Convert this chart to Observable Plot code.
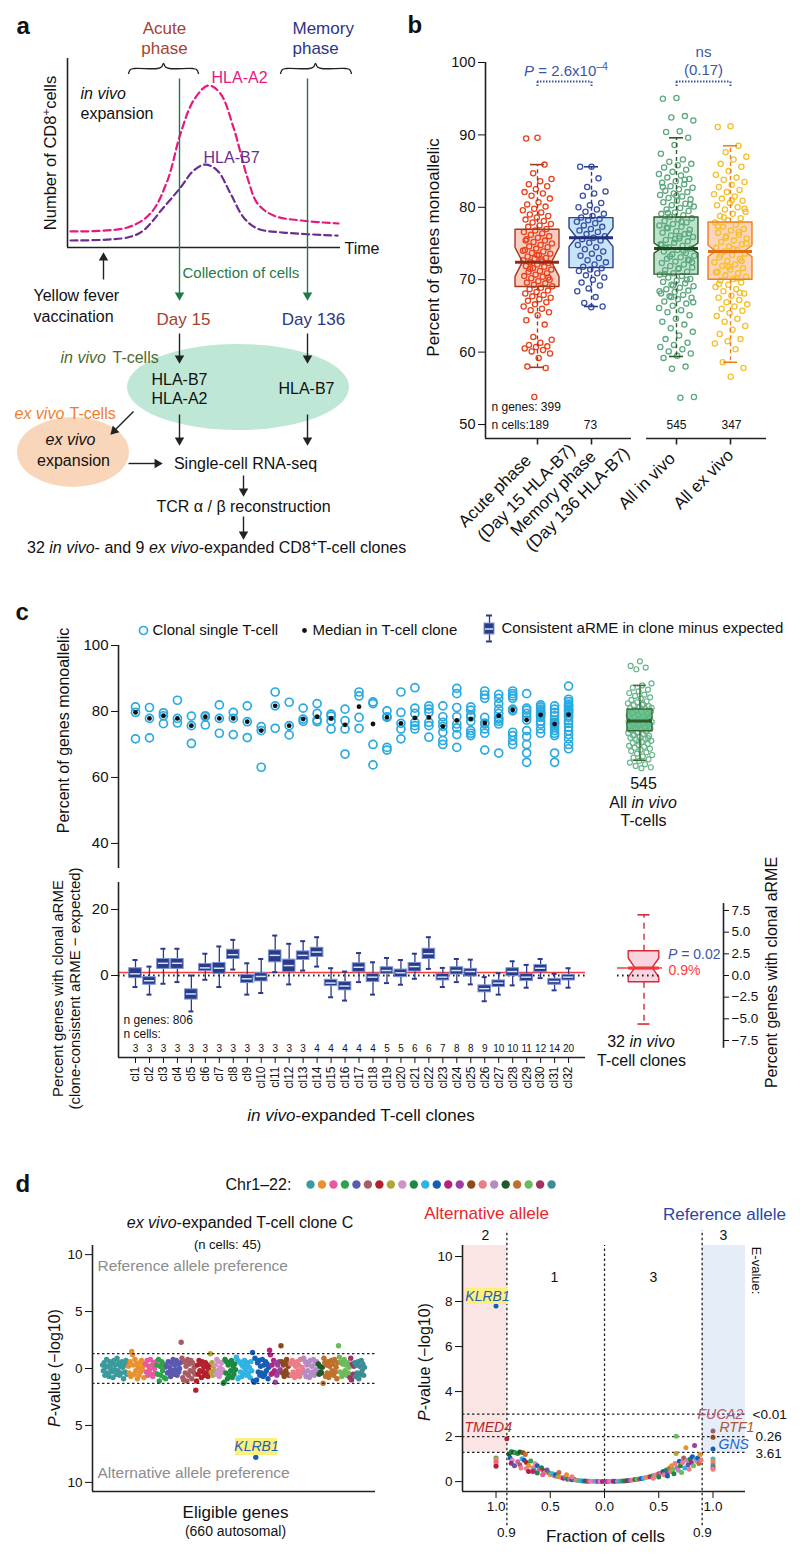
<!DOCTYPE html>
<html><head><meta charset="utf-8">
<script src="https://cdn.jsdelivr.net/npm/d3@7"></script>
<script src="https://cdn.jsdelivr.net/npm/@observablehq/plot@0.6"></script>
<style>
html,body{margin:0;padding:0;background:#fff;}
#root{position:relative;width:800px;height:1554px;overflow:hidden;font-family:"Liberation Sans",Arial,Helvetica,sans-serif;color:#111;}
#root svg{position:absolute;}
.h{position:absolute;white-space:nowrap;line-height:1;transform-origin:0 0;}
.sp{font-size:.7em;position:relative;top:-.55em;}
</style></head><body><div id="root"></div>
<script>
// ================= DATA =================
// Panel a: schematic expansion curves (time 0-100, relative number of cells 0-100)
const a2Time  = [1.1,22,30.4,36.6,41.4,46.2,51.6,56,60.8,65.9,69.6,75.5,85.3,99.3];
const a2Count = [8.5,10.6,18,35.4,60.3,77.8,85.7,81.5,63.5,37,23.3,16.9,14.3,12.7];
const b7Time  = [1.1,22,27.8,35.2,41.4,46.2,50.5,54.9,59.7,64.5,69.6,79.1,98.9];
const b7Count = [3.7,5.3,9,21.2,31.7,40.7,43.9,40.7,28.6,15.9,10,7.9,6.3];

// Panel b: percent of genes monoallelic per cell
const bGroups = ["Acute phase (Day 15 HLA-B7)","Memory phase (Day 136 HLA-B7)","All in vivo","All ex vivo"];
const bCells = [189,73,545,347];
const bQ1  = [69.0,71.6,70.7,70.0];
const bMed = [72.4,75.8,74.3,73.9];
const bQ3  = [76.9,78.5,78.6,77.9];
const bLo  = [57.9,66.3,59.4,58.6];
const bHi  = [85.9,85.6,89.6,88.5];
const bNotch = [2.0,1.3,0.7,0.8];
const acuteVals = "89.6 89.5 85.9 84.7 83.9 83.6 83.2 82.9 82.5 82.1 81.9 81.6 81.2 80.7 80.4 80.1 79.8 79.6 79.3 79.0 78.8 78.6 78.3 78.1 77.9 77.7 77.5 77.3 77.0 76.8 76.6 76.4 76.2 76.0 75.8 75.6 75.4 75.2 75.0 74.8 74.6 74.5 74.3 74.1 73.9 73.7 73.6 73.4 73.2 73.0 72.9 72.7 72.5 72.4 72.3 72.1 71.9 71.8 71.6 71.4 71.2 71.1 70.9 70.7 70.5 70.4 70.2 70.0 69.8 69.6 69.5 69.3 69.1 68.9 68.7 68.5 68.3 68.1 67.9 67.7 67.5 67.3 67.1 66.9 66.6 66.3 66.0 65.8 65.5 65.1 64.4 63.8 62.1 61.7 61.3 61.0 60.8 60.7 60.5 60.3 60.1 59.8 59.2 58.0 57.8 53.8 74.0 72.8 71.5 70.3 73.4 75.4";
const memoryVals = "85.6 85.6 84.0 82.8 82.2 81.9 81.6 80.6 80.3 80.0 79.7 79.4 79.1 78.8 78.6 78.4 78.2 78.0 77.8 77.5 77.3 77.0 76.8 76.6 76.3 76.0 75.8 75.6 75.4 75.1 74.8 74.5 74.2 73.9 73.6 73.3 73.0 72.7 72.4 72.1 71.8 71.6 71.4 71.2 70.9 70.6 70.3 70.0 69.6 69.2 68.8 68.4 67.6 66.8 66.3 66.2";
const inVivoVals = "95.1 95.0 92.6 92.4 92.0 90.5 90.4 89.6 88.6 87.4 86.6 86.3 86.0 85.8 85.5 85.2 84.9 84.6 84.4 84.1 83.9 83.6 83.4 83.2 82.9 82.7 82.5 82.3 82.1 81.9 81.7 81.5 81.3 81.1 80.9 80.7 80.5 80.3 80.1 79.9 79.7 79.5 79.3 79.1 78.9 78.7 78.5 78.3 78.1 77.9 77.7 77.5 77.3 77.1 76.9 76.7 76.5 76.3 76.1 75.9 75.7 75.5 75.3 75.1 74.9 74.7 74.5 74.3 74.1 73.9 73.7 73.5 73.3 73.1 72.9 72.7 72.5 72.3 72.1 71.9 71.7 71.5 71.3 71.1 70.9 70.7 70.5 70.3 70.1 69.9 69.7 69.5 69.3 69.1 68.9 68.7 68.5 68.3 68.1 67.9 67.7 67.5 67.3 67.0 66.7 66.4 66.1 65.8 65.5 65.1 64.6 64.2 63.8 63.3 62.8 62.3 61.8 61.3 61.0 60.7 60.4 60.1 59.8 59.5 59.2 58.0 57.7 53.8 53.7 77.2 76.4 75.6 74.8 74.0 73.2 72.4 71.6 70.8 70.0 69.2 68.4 78.0 79.2 80.4 81.6 82.8 83.8 67.6 66.9 76.0 74.4 72.8";
const exVivoVals = "91.2 91.1 88.5 87.6 87.0 86.6 86.0 85.6 85.0 84.5 84.1 83.8 83.5 83.1 82.8 82.4 82.1 81.8 81.5 81.2 80.9 80.6 80.3 80.0 79.7 79.4 79.1 78.8 78.5 78.2 77.9 77.6 77.3 77.0 76.8 76.5 76.2 76.0 75.7 75.4 75.2 74.9 74.6 74.4 74.1 73.9 73.6 73.4 73.1 72.9 72.6 72.4 72.1 71.9 71.6 71.4 71.1 70.9 70.6 70.4 70.1 69.9 69.6 69.3 69.0 68.7 68.4 68.1 67.8 67.5 67.2 66.9 66.6 66.3 66.0 65.7 65.4 65.0 64.6 64.2 63.6 63.1 62.5 61.8 61.5 61.2 60.4 58.6 57.8 56.6 77.4 76.6 75.8 75.0 74.2 73.4 72.6 71.8 71.0 70.2 78.6 79.8 81.0 69.4 68.2";

// Panel c (top): cells of 32 in vivo clones
const cloneLabels = ["cl1","cl2","cl3","cl4","cl5","cl6","cl7","cl8","cl9","cl10","cl11","cl12","cl13","cl14","cl15","cl16","cl17","cl18","cl19","cl20","cl21","cl22","cl23","cl24","cl25","cl26","cl27","cl28","cl29","cl30","cl31","cl32"];
const cloneCells = [3,3,3,3,3,3,3,3,3,3,3,3,3,4,4,4,4,4,5,5,6,6,7,8,8,9,10,10,11,12,14,20];
const cloneVals = [
 [81.4,79.7,71.7],[81.2,77.9,72.0],[79.6,78.7,76.3],[83.4,77.9,76.5],[78.6,75.7,70.3],
 [78.7,78.4,75.9],[82.0,77.9,73.4],[79.7,77.9,73.0],[81.7,76.9,72.1],[75.4,74.2,63.1],
 [85.9,81.7,74.9],[82.8,75.7,72.9],[81.0,77.7,77.0],[82.4,79.4,77.4,76.9],[79.2,78.6,77.2,74.7],
 [80.7,77.2,74.7,67.1],[85.9,84.7,78.2,74.9],[82.9,82.4,70.0,63.8],[80.2,78.4,78.2,69.1,68.3],
 [85.9,79.7,76.4,74.7,71.7],[87.2,81.0,79.4,76.7,75.7,74.7],[81.7,80.7,79.7,76.7,75.7,72.2],
 [81.7,78.4,76.7,75.5,73.7,71.2,70.0],[87.0,85.4,81.2,78.4,76.2,75.0,73.0,69.1],
 [81.4,80.4,78.9,78.4,77.0,74.2,73.4,72.7],[86.2,85.0,84.0,78.2,76.5,76.2,74.7,73.4,68.3],
 [85.2,84.0,82.4,80.7,79.4,78.0,77.7,77.0,76.2,67.4],[86.2,85.4,84.7,84.0,80.7,80.2,73.7,72.7,71.2,70.0],
 [85.4,81.0,80.4,79.4,78.4,77.4,74.2,72.4,70.0,67.4,64.6],[82.0,81.4,80.7,80.2,79.7,79.2,78.8,78.2,77.0,76.2,74.7,73.4],
 [81.7,80.7,79.7,78.7,77.4,76.7,76.4,76.0,75.2,74.2,73.4,72.7,67.4,64.6],
 [87.7,83.7,83.0,82.2,81.7,81.4,80.7,80.4,80.0,79.4,78.7,78.2,77.2,76.4,75.2,74.2,73.0,71.7,70.0,68.7]];
const allInVivoC = "95.2 93.8 93.3 92.8 88.5 87.9 87.2 86.6 86.1 85.6 85.1 84.7 84.3 83.9 83.5 83.1 82.8 82.5 82.2 81.9 81.6 81.3 81.0 80.7 80.4 80.1 79.9 79.6 79.3 79.1 78.8 78.6 78.3 78.1 77.8 77.6 77.3 77.1 76.8 76.6 76.3 76.1 75.8 75.6 75.3 75.1 74.8 74.6 74.3 74.1 73.8 73.5 73.2 72.9 72.6 72.3 72.0 71.7 71.4 71.1 70.8 70.5 70.2 69.9 69.6 69.3 69.0 68.7 68.4 68.0 67.6 67.2 66.8 66.4 66.0 65.5 65.0 64.5 64.0 63.5 63.1 62.8 79.5 78.2 77.4 76.9 76.4 75.9 75.4 74.9 74.4 73.9 80.2 81.1 82.0 72.8 71.9 70.9";
const allInVivoStats = {q1:74.0, med:77.1, q3:80.6, lo:65.2, hi:87.9, notch:0.6};

// Panel c (bottom): clonal aRME minus expected, per clone
const armeLo  = [-3.5,-5.8,-2.5,-2.0,-10.9,-1.3,-3.5,1.8,-5.8,-5.3,1.0,-2.7,1.5,2.7,-6.6,-7.6,-2.0,-5.8,-2.3,-2.8,-1.0,2.0,-3.5,-2.0,-2.7,-7.8,-5.8,-3.0,-3.7,-0.8,-4.5,-3.7];
const armeQ1  = [-0.8,-2.8,2.0,2.0,-7.3,1.3,0.5,5.0,-2.3,-1.8,4.0,1.0,4.7,5.6,-3.2,-4.5,1.0,-2.0,0.5,-0.5,1.2,5.0,-1.5,0.3,-0.3,-5.1,-3.5,-0.2,-1.7,1.0,-2.8,-1.5];
const armeMed = [0.5,-1.6,3.7,3.7,-5.6,2.3,2.2,6.3,-1.0,-0.3,6.1,3.0,6.1,7.1,-2.3,-3.2,2.5,-0.5,1.5,0.8,2.7,6.6,-0.5,1.5,1.2,-4.0,-2.3,1.2,-0.5,2.2,-1.8,-0.5];
const armeQ3  = [2.2,-0.5,5.0,5.0,-4.2,3.5,3.8,7.8,0.2,0.7,7.6,4.8,7.3,8.4,-1.3,-2.0,3.7,0.5,2.5,1.8,3.8,8.1,0.5,2.5,2.0,-3.0,-1.5,2.2,0.5,3.2,-1.0,0.2];
const armeHi  = [4.7,2.7,8.1,8.1,0.0,6.6,8.8,10.8,3.7,5.0,12.1,9.6,10.4,11.6,2.2,1.2,6.8,4.0,5.3,4.7,6.6,11.6,2.3,5.0,4.8,-0.5,0.7,4.3,3.2,5.0,0.5,2.2];
const armeMedianAll = 0.9;
const clonesSummary = {q1:-0.78, med:0.86, q3:2.8, lo:-5.6, hi:7.0, notch:1.1};

// Panel d: chromosome colours and per-gene P-values (-log10, signed: + reference, - alternative)
const chrNames = ["chr1","chr2","chr3","chr4","chr5","chr6","chr7","chr8","chr9","chr10","chr11","chr12","chr13","chr14","chr15","chr16","chr17","chr18","chr19","chr20","chr21","chr22"];
const chrColors = ["#3a9a9e","#e8912d","#e75a9e","#2ea34a","#5a58b0","#a85c60","#b3202c","#b1a631","#d390c6","#1b8a3e","#2fb2e6","#145fb5","#b5227a","#9c3fa3","#8b4a1c","#ec7d88","#b48bc4","#1e5b2d","#c0702c","#6bbb5a","#a23262","#3b8d98"];
const manhattanTenths = [
 "3 -2 5 -6 1 8 -4 2 -7 6 0 -3 4 -8 7 -1 3 -5 9 -2 5 -6 2 -4 6 1 -9 3 -3 7 -5 4",
 "2 -4 6 -7 15 12 3 -5 8 -2 4 -9 1 -6 5 -3 7 -1 2 -8 4",
 "4 -3 7 -6 2 -1 8 -5 3 -7 5 0 -4 6",
 "3 -5 8 -11 2 -6 6 -2 4 -8 1 -9",
 "2 -4 6 -3 1 -7 5 -2 8 -5 3 -1 7 -6 4 -3 0 5",
 "23 9 -8 -10 6 -4 2 -11 8 -6 4 -2 7 -9 5 -3 1 -5",
 "-19 -11 3 -5 7 -2 4 -8 6 -3 1 -6 5 -4 2 -7 -1 3",
 "13 -3 5 -6 2 -2",
 "3 -5 8 -2 6 -7 1 -4 5 -1",
 "-13 -12 8 -4 6 -9 3 -6 5 -2 7 -8 2 -5 4 -1",
 "10 8 -9 -8 6 -3 4 -7 2 -5 7 -1 3 -6 5 -4 1 -8 6 -2",
 "14 -11 -12 9 -78 -10 5 -3 7 -6 2 -4 8 -7 3 -5 6 -2 4 -9 1",
 "16 12 -5 3 -4 7 -2",
 "-12 5 -6 3 -3 6 -1",
 "20 6 -4 3 -7 5 -2 8 -5 2 -6 4",
 "4 -6 7 -3 5 -8 2 -5 6 -2 3 -7 8 -4 1 -1",
 "9 -4 6 -7 3 -2 5 -8 7 -5 2 -3 8 -6 4 -1 6 -3",
 "4 -5 2 -3 -4 1",
 "-13 9 5 -7 3 -4 6 -8 2 -5 7 -2 4 -6 8 -3 1 -9 5",
 "20 10 -3 6 -7 4 -5 8 -2 3 -6 5 -4 1",
 "-8 9 -10 4 -5 2",
 "5 -7 3 -4 6 -9 2 -5 7 -2 4 -6 1"];
// volcano: signed fraction of cells (- alternative, + reference), P-value (-log10), chromosome
const volcanoPts = "-0.88 1.22 18,-0.86 1.33 10,-0.84 1.30 18,-0.82 1.28 4,-0.80 1.25 10,-0.78 1.32 18,-0.75 1.28 15,-0.73 1.20 19,-0.87 1.05 12,-0.85 0.95 9,-0.86 0.82 13,-0.83 0.70 5,-0.80 0.88 3,-0.78 0.75 6,-0.76 1.02 11,-0.74 0.95 12,-0.72 0.85 7,-0.70 0.72 2,-0.68 0.92 4,-0.66 0.62 16,-0.64 0.80 9,-0.62 0.70 12,-0.60 0.55 3,-0.58 0.62 10,-0.56 0.48 7,-0.55 0.40 16,-0.53 0.52 5,-0.51 0.38 4,-0.50 0.30 2,-0.48 0.35 11,-0.46 0.25 3,-0.45 0.30 12,-0.43 0.22 8,-0.42 0.40 19,-0.40 0.18 16,-0.38 0.15 13,-0.36 0.20 1,-0.34 0.10 10,-0.32 0.12 3,-0.30 0.08 12,-0.28 0.10 22,-0.26 0.06 16,-0.24 0.05 20,-0.22 0.04 11,-0.20 0.03 1,-0.18 0.03 12,-0.16 0.02 15,-0.14 0.02 3,-0.12 0.01 9,-0.10 0.01 16,-0.08 0.01 11,-0.06 0.00 14,-0.04 0.00 9,-0.02 0.00 13,-0.72 0.58 16,-0.70 0.45 7,-0.65 0.50 1,-0.77 0.60 16,-0.62 0.38 10,-0.57 0.30 3,-0.66 0.45 13,-0.35 0.30 2,-0.30 0.22 16,-1.00 1.05 4,-1.00 1.00 16,-1.00 0.93 2,-1.00 0.85 3,-1.00 0.75 16,-1.00 0.68 7,-1.00 7.80 12,-0.90 1.90 7,0.02 0.00 14,0.04 0.00 3,0.06 0.01 9,0.08 0.01 13,0.10 0.01 12,0.12 0.02 16,0.14 0.02 11,0.16 0.03 1,0.18 0.03 10,0.20 0.04 15,0.22 0.05 12,0.24 0.06 3,0.26 0.07 16,0.28 0.09 10,0.30 0.10 20,0.32 0.12 6,0.34 0.14 12,0.36 0.15 11,0.38 0.18 16,0.40 0.20 2,0.42 0.22 13,0.44 0.25 10,0.46 0.28 17,0.48 0.30 16,0.50 0.35 6,0.52 0.38 3,0.54 0.45 12,0.55 0.30 16,0.57 0.52 10,0.58 0.40 5,0.60 0.60 19,0.61 0.45 16,0.62 0.70 2,0.63 0.55 20,0.64 0.35 10,0.65 0.80 16,0.66 2.02 20,0.66 1.25 8,0.67 0.62 3,0.68 0.50 17,0.69 0.90 12,0.70 0.70 10,0.71 0.40 20,0.72 0.85 16,0.73 1.05 6,0.74 0.60 11,0.75 1.50 2,0.76 0.95 17,0.77 0.75 5,0.78 0.55 16,0.79 1.00 10,0.80 0.85 13,0.81 1.10 12,0.82 0.70 20,0.83 1.60 14,0.84 1.00 11,0.85 0.90 17,0.86 1.05 12,0.87 0.80 19,0.88 1.20 2,0.89 0.95 16,0.58 0.25 12,0.50 0.20 10,0.45 0.15 16,1.00 2.25 6,1.00 1.97 15,1.00 1.45 12,1.00 1.00 11,1.00 0.92 2,1.00 0.80 16,1.00 0.70 1,1.00 0.62 6,1.00 0.55 16";

// ================= HELPERS =================
const ns = "http://www.w3.org/2000/svg";
const root = document.getElementById("root");
const FONT = '"Liberation Sans", Arial, Helvetica, sans-serif';
const ST = {background:"transparent", overflow:"visible", fontFamily:FONT};
const nums = s => s.trim().split(/\s+/).map(Number);
const jit = i => ((i * 0.6180339887 + 0.5) % 1) - 0.5;
function put(svg, left, top){ svg.style.left = left+"px"; svg.style.top = top+"px"; root.appendChild(svg); }
function H(x, y, html, o={}) {
  const d = document.createElement("div");
  d.className = "h"; d.innerHTML = html;
  d.style.left = x+"px"; d.style.top = y+"px";
  d.style.fontSize = (o.size||16)+"px";
  if (o.color) d.style.color = o.color;
  const tx = o.anchor==="middle" ? "-50%" : o.anchor==="end" ? "-100%" : "0";
  d.style.transform = `rotate(${o.rotate||0}deg) translate(${tx},-50%)`;
  root.appendChild(d);
}
function notchRows(x, q1, med, q3, notch, hw, nw) {
  return [{y:q1,x1:x-hw,x2:x+hw},{y:med-notch,x1:x-hw,x2:x+hw},{y:med,x1:x-nw,x2:x+nw},{y:med+notch,x1:x-hw,x2:x+hw},{y:q3,x1:x-hw,x2:x+hw}];
}
function notchedBox(x, s, hw, nw, capw, c, dash) {
  const rows = notchRows(x, s.q1, s.med, s.q3, s.notch, hw, nw);
  return {
    fill: Plot.areaX(rows, {y:"y", x1:"x1", x2:"x2", fill:c.fill, fillOpacity:c.op ?? 1}),
    rest: [
      Plot.ruleX([x], {y1:s.q3, y2:s.hi, stroke:c.line, strokeWidth:1.4, strokeDasharray:dash}),
      Plot.ruleX([x], {y1:s.q1, y2:s.lo, stroke:c.line, strokeWidth:1.4, strokeDasharray:dash}),
      Plot.ruleY([s.hi, s.lo], {x1:x-capw, x2:x+capw, stroke:c.line, strokeWidth:1.6}),
      Plot.areaX(rows, {y:"y", x1:"x1", x2:"x2", fill:"none", stroke:c.line, strokeWidth:1.4}),
      Plot.ruleY([s.med], {x1:x-hw, x2:x+hw, stroke:c.med, strokeWidth:3})
    ]};
}
function arrowMarks(list, color) {
  const segs = list.map(([x1,y1,x2,y2]) => {
    const L = Math.hypot(x2-x1, y2-y1), ux=(x2-x1)/L, uy=(y2-y1)/L;
    return {x1, y1, x2:x2-ux*5, y2:y2-uy*5, hx:x2-ux*5.2, hy:y2-uy*5.2, ang:Math.atan2(ux,-uy)*180/Math.PI};
  });
  return [
    Plot.link(segs, {x1:"x1", y1:"y1", x2:"x2", y2:"y2", stroke:color, strokeWidth:1.4}),
    Plot.dot(segs, {x:"hx", y:"hy", symbol:"triangle", r:3.5, fill:color, stroke:"none", rotate:"ang"})
  ];
}
const T = (rows, o={}) => Plot.text(rows, {x:d=>d[0], y:d=>d[1], text:d=>d[2], fontSize:16, fill:"#111", textAnchor:"start", ...o});

// ================= PANEL a: curves =================
put(Plot.plot({
  width:400, height:300, marginLeft:67, marginRight:60, marginTop:58, marginBottom:53,
  x:{domain:[0,100], axis:null}, y:{domain:[0,100], axis:null}, style:ST,
  marks:[
    Plot.ruleX([0], {y1:0, y2:100, stroke:"#222", strokeWidth:1.6}),
    Plot.ruleY([0], {x1:0, x2:100, stroke:"#222", strokeWidth:1.6}),
    Plot.line(a2Time.map((t,i)=>({t, n:a2Count[i]})), {x:"t", y:"n", stroke:"#e6197e", strokeWidth:2.2, strokeDasharray:"7,4", curve:"catmull-rom"}),
    Plot.line(b7Time.map((t,i)=>({t, n:b7Count[i]})), {x:"t", y:"n", stroke:"#6a2d91", strokeWidth:2.2, strokeDasharray:"7,4", curve:"catmull-rom"})
  ]}), 0, 0);

// ================= PANEL b =================
const bPos = [1, 2, 3.574, 4.574];
const bCol = [
 {pt:"#e8431f", fill:"#f9cdbf", line:"#a3391f", med:"#8f2e17"},
 {pt:"#3a52a6", fill:"#c7e5f6", line:"#2b3d8e", med:"#22307a"},
 {pt:"#5ea97f", fill:"#bde3cc", line:"#2f5a2c", med:"#24481f"},
 {pt:"#f5c02c", fill:"#fbd4ba", line:"#ee7e22", med:"#e06d12"}];
const bVals = [acuteVals, memoryVals, inVivoVals, exVivoVals].map(nums);
const bJit = [0.55, 0.55, 0.66, 0.62];
const bY0 = 48.07, bXmin = 0.037;
{
  const fills = [], pts = [], rest = [];
  bVals.forEach((vals, g) => {
    const s = {q1:bQ1[g], med:bMed[g], q3:bQ3[g], lo:bLo[g], hi:bHi[g], notch:bNotch[g]};
    const nb = notchedBox(bPos[g], s, 0.407, 0.27, 0.13, bCol[g], "4,3");
    fills.push(nb.fill); rest.push(...nb.rest);
    pts.push(Plot.dot(vals, {x:(d,i)=>bPos[g]+jit(i)*bJit[g], y:d=>d, r:2.6, stroke:bCol[g].pt, strokeWidth:1.3, fill:"none"}));
  });
  put(Plot.plot({
    width:400, height:590, marginLeft:85, marginRight:34, marginTop:62, marginBottom:152,
    x:{domain:[bXmin, 5.2407], axis:null}, y:{domain:[bY0, 100]}, style:ST,
    marks:[
      ...fills, ...pts, ...rest,
      Plot.axisY({ticks:[50,60,70,80,90,100], tickSize:7, tickPadding:3, fontSize:14.5, label:null}),
      Plot.ruleX([bXmin], {y1:bY0, y2:100, stroke:"#222", strokeWidth:1.6}),
      Plot.ruleY([bY0], {x1:bXmin, x2:2.74, stroke:"#222", strokeWidth:1.6}),
      Plot.ruleY([bY0], {x1:3.02, x2:5.2407, stroke:"#222", strokeWidth:1.6}),
      Plot.ruleX(bPos, {y1:bY0, y2:bY0-0.9, stroke:"#222", strokeWidth:1.6}),
      // significance brackets
      Plot.ruleY([97.38], {x1:bPos[0], x2:bPos[1], stroke:"#3c55a5", strokeWidth:2, strokeDasharray:"1.5,1.5"}),
      Plot.ruleY([97.38], {x1:bPos[2], x2:bPos[3], stroke:"#3c55a5", strokeWidth:2, strokeDasharray:"1.5,1.5"}),
      Plot.ruleX(bPos, {y1:96.7, y2:97.38, stroke:"#3c55a5", strokeWidth:2, strokeDasharray:"1.5,1.5"})
    ]}), 400, 0);
}

// ================= PANEL c top =================
const cXmin = -0.2169, cXmax = 33.212, cAllX = 37.11;
const cellRows = cloneVals.flatMap((vals, k) => vals.map(v => ({clone:k+1, v})));
{
  const nb = notchedBox(cAllX, allInVivoStats, 0.895, 0.6, 0.45, {fill:"#5cbb85", line:"#3d6b35", med:"#2f5a2a", op:0.85}, null);
  put(Plot.plot({
    width:800, height:280, marginLeft:118, marginRight:215, marginTop:55, marginBottom:2,
    x:{domain:[cXmin, cXmax], axis:null}, y:{domain:[32.4, 100]}, style:ST,
    marks:[
      Plot.axisY({ticks:[40,60,80,100], tickSize:7, tickPadding:3, fontSize:15, label:null}),
      Plot.ruleX([cXmin], {y1:32.4, y2:100, stroke:"#222", strokeWidth:1.6}),
      Plot.dot(cellRows, {x:"clone", y:"v", r:4, stroke:"#29aae1", strokeWidth:1.7, fill:"none"}),
      Plot.dot(cellRows, Plot.groupX({y:"median"}, {x:"clone", y:"v", r:2.4, fill:"#111"})),
      Plot.dot(nums(allInVivoC), {x:(d,i)=>cAllX+jit(i)*1.75, y:d=>d, r:2.5, stroke:"#67b58a", strokeWidth:1.2, fill:"none"}),
      nb.fill, ...nb.rest
    ]}), 0, 590);
}

// ================= PANEL c bottom =================
const cloneIdx = cloneLabels.map((_, i) => i + 1);
const armeRows = cloneIdx.map((i, k) => ({i, lo:armeLo[k], q1:armeQ1[k], med:armeMed[k], q3:armeQ3[k], hi:armeHi[k], n:cloneCells[k]}));
put(Plot.plot({
  width:800, height:240, marginLeft:118, marginRight:215, marginTop:22, marginBottom:43,
  x:{domain:[cXmin, cXmax]}, y:{domain:[-24.85, 28.18]}, style:ST,
  marks:[
    Plot.ruleY([armeMedianAll], {stroke:"#ff3b3b", strokeWidth:1.5}),
    Plot.ruleY([0], {stroke:"#222", strokeWidth:2.2, strokeDasharray:"1.6,3.4"}),
    Plot.ruleX(armeRows, {x:"i", y1:"lo", y2:"hi", stroke:"#2c3a8a", strokeWidth:1.3}),
    Plot.ruleY(armeRows, {y:"lo", x1:d=>d.i-0.18, x2:d=>d.i+0.18, stroke:"#2c3a8a", strokeWidth:2}),
    Plot.ruleY(armeRows, {y:"hi", x1:d=>d.i-0.18, x2:d=>d.i+0.18, stroke:"#2c3a8a", strokeWidth:2}),
    Plot.rect(armeRows, {x1:d=>d.i-0.45, x2:d=>d.i+0.45, y1:"q1", y2:"q3", fill:"#2c3a8a", stroke:"#7d93d2", strokeWidth:1}),
    Plot.ruleY(armeRows, {y:"med", x1:d=>d.i-0.36, x2:d=>d.i+0.36, stroke:"#cbe8f7", strokeWidth:1.5}),
    Plot.text(armeRows, {x:"i", text:"n", frameAnchor:"bottom", dy:-6, fontSize:10, fill:"#111"}),
    Plot.axisY({ticks:[0,20], tickSize:7, tickPadding:3, fontSize:15, label:null}),
    Plot.axisX({ticks:cloneIdx, tickFormat:i=>cloneLabels[i-1], tickRotate:-90, tickSize:6, tickPadding:3, fontSize:12, label:null}),
    Plot.ruleX([cXmin], {y1:-24.85, y2:28.18, stroke:"#222", strokeWidth:1.6}),
    Plot.ruleY([-24.85], {x1:cXmin, x2:cXmax, stroke:"#222", strokeWidth:1.6})
  ]}), 0, 860);

// right summary box (own scale)
{
  const nb = notchedBox(43.5, clonesSummary, 15.3, 8.7, 6, {fill:"#f9d3dd", line:"#d42a3a", med:"#d42a3a"}, "6,5");
  put(Plot.plot({
    width:200, height:240, marginLeft:0, marginRight:77, marginTop:43.06, marginBottom:52.2,
    x:{domain:[0,123], axis:null}, y:{domain:[-8.4, 8.3]}, style:ST,
    marks:[
      nb.fill, ...nb.rest,
      Plot.ruleY([clonesSummary.med], {x1:17, x2:62, stroke:"#ff3b3b", strokeWidth:1.5}),
      Plot.ruleY([0], {x1:17, x2:62, stroke:"#222", strokeWidth:2.2, strokeDasharray:"1.6,3.4"}),
      Plot.axisY({anchor:"right", ticks:[-7.5,-5,-2.5,0,2.5,5,7.5], tickFormat:".1f", tickSize:5, tickPadding:3, fontSize:13.5, label:null}),
      Plot.ruleX([123], {y1:-8.4, y2:8.3, stroke:"#222", strokeWidth:1.6})
    ]}), 600, 860);
}

// ================= PANEL d left (Manhattan) =================
const manh = [];
manhattanTenths.forEach((s, c) => nums(s).forEach(v => manh.push({i:manh.length, v:v/10, chr:chrNames[c]})));
{
  const N = manh.length, sc = 262/(N-1);
  put(Plot.plot({
    width:400, height:300, marginLeft:92, marginRight:25, marginTop:15, marginBottom:39,
    x:{domain:[-10/sc, (N-1)+11/sc], axis:null}, y:{domain:[-10.8, 10.8]},
    color:{type:"ordinal", domain:chrNames, range:chrColors}, style:ST,
    marks:[
      Plot.dot(manh, {x:"i", y:"v", fill:"chr", r:2.7}),
      Plot.ruleY([1.3, -1.3], {stroke:"#222", strokeWidth:1.3, strokeDasharray:"2.5,2.5"}),
      Plot.axisY({ticks:[-10,-5,0,5,10], tickFormat:d=>Math.abs(d), tickSize:7, tickPadding:3, fontSize:13.5, label:null}),
      Plot.ruleX([-10/sc], {y1:-10.8, y2:10.8, stroke:"#222", strokeWidth:1.6}),
      Plot.ruleY([-10.8], {stroke:"#222", strokeWidth:1.6})
    ]}), 0, 1230);
}

// ================= PANEL d right (volcano) =================
const volc = volcanoPts.split(",").map(s => { const [f,p,c] = nums(s); return {f, p, chr:chrNames[c-1]}; });
put(Plot.plot({
  width:400, height:310, marginLeft:62, marginRight:55, marginTop:15, marginBottom:49,
  x:{domain:[-1.309, 1.2995]}, y:{domain:[-0.44, 10.49]},
  color:{type:"ordinal", domain:chrNames, range:chrColors}, style:ST,
  marks:[
    Plot.rect([0], {x1:-1.309, x2:-0.9, y1:1.3, y2:10.49, fill:"#fbe4e4"}),
    Plot.rect([0], {x1:0.9, x2:1.2995, y1:1.3, y2:10.49, fill:"#e5edf8"}),
    Plot.ruleY([3, 2, 1.3], {stroke:"#222", strokeWidth:1.3, strokeDasharray:"2.5,2.5"}),
    Plot.ruleX([-0.9, 0.9], {y1:-1.96, y2:11.16, stroke:"#222", strokeWidth:1.3, strokeDasharray:"2.5,2.5"}),
    Plot.ruleX([0], {y1:-0.44, y2:10.49, stroke:"#222", strokeWidth:1.3, strokeDasharray:"2.5,2.5"}),
    Plot.dot(volc, {x:"f", y:"p", fill:"chr", r:2.5}),
    Plot.axisY({ticks:[0,2,4,6,8,10], tickSize:7, tickPadding:3, fontSize:13.5, label:null}),
    Plot.axisX({ticks:[-1,-0.5,0,0.5,1], tickFormat:d=>Math.abs(d).toFixed(1), tickSize:7, tickPadding:3, fontSize:13.5, label:null}),
    Plot.ruleX([-1.309], {y1:-0.44, y2:10.49, stroke:"#222", strokeWidth:1.6}),
    Plot.ruleY([-0.44], {stroke:"#222", strokeWidth:1.6})
  ]}), 400, 1230);

// ================= OVERLAY (schematic + annotations, pixel coordinates) =================
const ellipses = () => {
  const g = document.createElementNS(ns, "g");
  [[238,387,111,43,"#bfe7d5"],[73,452,56,35,"#f9d6b9"]].forEach(([cx,cy,rx,ry,f]) => {
    const e = document.createElementNS(ns, "ellipse");
    e.setAttribute("cx",cx); e.setAttribute("cy",cy); e.setAttribute("rx",rx); e.setAttribute("ry",ry); e.setAttribute("fill",f);
    g.appendChild(e);
  });
  return g;
};
const braceRows = [];
[[128,198,163],[280,351,315]].forEach(([x0,x1,m],k) => {
  const y = 68;
  [[x0,y+5],[x0+2,y+1],[x0+6,y],[m-6,y],[m-2,y-1.5],[m,y-5],[m+2,y-1.5],[m+6,y],[x1-6,y],[x1-2,y+1],[x1,y+5]].forEach(([x,yy]) => braceRows.push({x, y:yy, k}));
});
const blackArrows = [[103,279,103,252],[179,333,179,363],[307,333,307,363],[179,414,179,445],[307,414,307,445],[133,411,110,434],[128,463,162,463],[243,475,243,496],[243,516,243,539]];
const greenArrows = [[179,78,179,300],[307,78,307,300]];
const legendBox = {x:489, lo:615, hi:641, q1:634, q3:623};

put(Plot.plot({
  width:800, height:1554, margin:0,
  x:{type:"identity", axis:null}, y:{type:"identity", axis:null},
  color:{type:"ordinal", domain:chrNames, range:chrColors}, style:ST,
  marks:[
    ellipses,
    Plot.line(braceRows, {x:"x", y:"y", z:"k", stroke:"#222", strokeWidth:1.3, curve:"catmull-rom"}),
    ...arrowMarks(greenArrows, "#1f7a48"),
    ...arrowMarks(blackArrows, "#222"),
    // panel letters
    T([[16,26,"a"],[407,25,"b"],[15,612,"c"],[15,1184,"d"]], {fontSize:24, fontWeight:"bold"}),
    // panel a texts
    T([[33,295,"Yellow fever"],[33,316,"vaccination"],[344,248,"Time"],[80,113,"expansion"]]),
    T([[245,463,"Single-cell RNA-seq"],[243,506,"TCR α / β reconstruction"],[179,379,"HLA-B7"],[179,398,"HLA-A2"],[306,388,"HLA-B7"],[73,460,"expansion"]], {textAnchor:"middle"}),
    T([[80,93,"in vivo"]], {fontStyle:"italic"}),
    T([[70,439,"ex vivo"]], {fontStyle:"italic", textAnchor:"middle"}),
    T([[164,28,"Acute"],[164,48,"phase"],[183,319,"Day 15"]], {fill:"#a3442e", textAnchor:"middle", fontSize:17}),
    T([[292,28,"Memory"],[292,48,"phase"]], {fill:"#2e3586", fontSize:17}),
    T([[313,319,"Day 136"]], {fill:"#2e3586", textAnchor:"middle", fontSize:17}),
    T([[211,77,"HLA-A2"]], {fill:"#e6197e"}),
    T([[203,157,"HLA-B7"]], {fill:"#6a2d91"}),
    T([[182,273,"Collection of cells"]], {fill:"#1f7a48", fontSize:15}),
    T([[60,357,"in vivo"]], {fill:"#4c6b30", fontStyle:"italic"}),
    T([[112,357,"T-cells"]], {fill:"#4c6b30"}),
    T([[14,413,"ex vivo"]], {fill:"#ef7d2b", fontStyle:"italic"}),
    T([[69,413,"T-cells"]], {fill:"#ef7d2b"}),
    // panel b texts
    T([[461,524,"Acute phase"],[480,538,"(Day 15 HLA-B7)"],[513,533,"Memory phase"],[528,548,"(Day 136 HLA-B7)"],[621,506,"All in vivo"],[676,506,"All ex vivo"]], {fontSize:17, rotate:-45}),
    T([[433,247,"Percent of genes monoallelic"]], {fontSize:17, rotate:-90, textAnchor:"middle"}),
    T([[491,407,"n genes: 399"],[491,425,"n cells:" + bCells[0]]], {fontSize:12}),
    T([[590,425,String(bCells[1])],[676,425,String(bCells[2])],[731,425,String(bCells[3])]], {fontSize:12, textAnchor:"middle"}),
    T([[703,52,"ns"],[703,70,"(0.17)"]], {fontSize:15, fill:"#3c55a5", textAnchor:"middle"}),
    // panel c legend
    Plot.dot([[143,630]], {x:d=>d[0], y:d=>d[1], r:4, stroke:"#29aae1", strokeWidth:1.7, fill:"none"}),
    Plot.dot([[304,630]], {x:d=>d[0], y:d=>d[1], r:2.4, fill:"#111"}),
    Plot.ruleX([legendBox], {x:"x", y1:"lo", y2:"hi", stroke:"#2c3a8a", strokeWidth:1.3}),
    Plot.ruleY([legendBox.lo, legendBox.hi], {y:d=>d, x1:legendBox.x-3, x2:legendBox.x+3, stroke:"#2c3a8a", strokeWidth:2}),
    Plot.rect([legendBox], {x1:d=>d.x-5, x2:d=>d.x+5, y1:"q3", y2:"q1", fill:"#2c3a8a", stroke:"#7d93d2"}),
    Plot.ruleY([628.5], {x1:legendBox.x-4, x2:legendBox.x+4, stroke:"#cbe8f7", strokeWidth:1.5}),
    T([[152,630,"Clonal single T-cell"],[312,630,"Median in T-cell clone"],[501,628,"Consistent aRME in clone minus expected"]], {fontSize:15}),
    // panel c texts
    T([[63,730,"Percent of genes monoallelic"]], {rotate:-90, textAnchor:"middle"}),
    T([[58,988,"Percent genes with clonal aRME"],[75,988,"(clone-consistent aRME − expected)"]], {rotate:-90, textAnchor:"middle", fontSize:15}),
    T([[771,972,"Percent genes with clonal aRME"]], {rotate:-90, textAnchor:"middle"}),
    T([[643,783,"545"],[643,820,"T-cells"],[641,1060,"T-cell clones"]], {textAnchor:"middle"}),
    T([[123,1020,"n genes: 806"],[123,1034,"n cells:"]], {fontSize:12}),
    T([[668,970,"0.9%"]], {fontSize:14, fill:"#ff3b3b"}),
    // panel d legend + texts
    Plot.dot(chrNames, {x:(d,i)=>310+i*11.48, y:()=>1184, r:4.2, fill:d=>d}),
    T([[225,1184,"Chr1–22:"]]),
    T([[227,1244,"(n cells: 45)"]], {fontSize:13, textAnchor:"middle"}),
    T([[97,1266,"Reference allele preference"],[97,1473,"Alternative allele preference"]], {fontSize:15.5, fill:"#8c8c8c"}),
    T([[235,1512,"Eligible genes"]], {fontSize:17, textAnchor:"middle"}),
    T([[235,1531,"(660 autosomal)"]], {fontSize:14, textAnchor:"middle"}),
    Plot.rect([[235,277,1438,1455],[465,508,1288,1304]], {x1:d=>d[0], x2:d=>d[1], y1:d=>d[2], y2:d=>d[3], fill:"#fbf07e"}),
    T([[256,1446,"KLRB1"],[487,1296,"KLRB1"]], {fontSize:14, fontStyle:"italic", fill:"#1f5fb5", textAnchor:"middle"}),
    T([[486,1213,"Alternative allele"]], {fontSize:17, fill:"#e8252a", textAnchor:"middle"}),
    T([[724,1214,"Reference allele"]], {fontSize:17, fill:"#2c45a3", textAnchor:"middle"}),
    T([[485,1235,"2"],[723,1235,"3"],[554,1277,"1"],[653,1277,"3"]], {fontSize:14, textAnchor:"middle"}),
    T([[756,1270,"E-value:"]], {fontSize:13, rotate:90, textAnchor:"middle"}),
    T([[752,1414,"<0.01"],[755,1436,"0.26"],[755,1453,"3.61"]], {fontSize:13.5}),
    T([[506,1532,"0.9"],[702,1532,"0.9"]], {fontSize:13.5, textAnchor:"middle"}),
    T([[605,1536,"Fraction of cells"]], {fontSize:17, textAnchor:"middle"}),
    T([[464,1427,"TMED4"]], {fontSize:14, fontStyle:"italic", fill:"#b0262b"}),
    T([[697,1414,"FUCA2"]], {fontSize:14, fontStyle:"italic", fill:"#b35a6e"}),
    T([[719,1427,"RTF1"]], {fontSize:14, fontStyle:"italic", fill:"#a9592a"}),
    T([[718,1444,"GNS"]], {fontSize:14, fontStyle:"italic", fill:"#2266c4"})
  ]}), 0, 0);

// mixed-style text
H(50, 153, 'Number of CD8<span class="sp">+</span>cells', {size:16.5, anchor:"middle", rotate:-90});
H(27, 548, '32 <i>in vivo</i>- and 9 <i>ex vivo</i>-expanded CD8<span class="sp">+</span>T-cell clones', {size:16});
H(566, 70, '<i>P</i> = 2.6x10<span class="sp">–4</span>', {size:15, anchor:"middle", color:"#3c55a5"});
H(643, 803, 'All <i>in vivo</i>', {size:16, anchor:"middle"});
H(668, 954, '<i>P</i> = 0.02', {size:14, color:"#3c55a5"});
H(641, 1042, '32 <i>in vivo</i>', {size:16, anchor:"middle"});
H(361, 1115, '<i>in vivo</i>-expanded T-cell clones', {size:17, anchor:"middle"});
H(240, 1223, '<i>ex vivo</i>-expanded T-cell clone C', {size:16, anchor:"middle"});
H(55, 1368, '<i>P</i>-value (−log10)', {size:16, anchor:"middle", rotate:-90});
H(425, 1362, '<i>P</i>-value (−log10)', {size:16, anchor:"middle", rotate:-90});
</script></body></html>
